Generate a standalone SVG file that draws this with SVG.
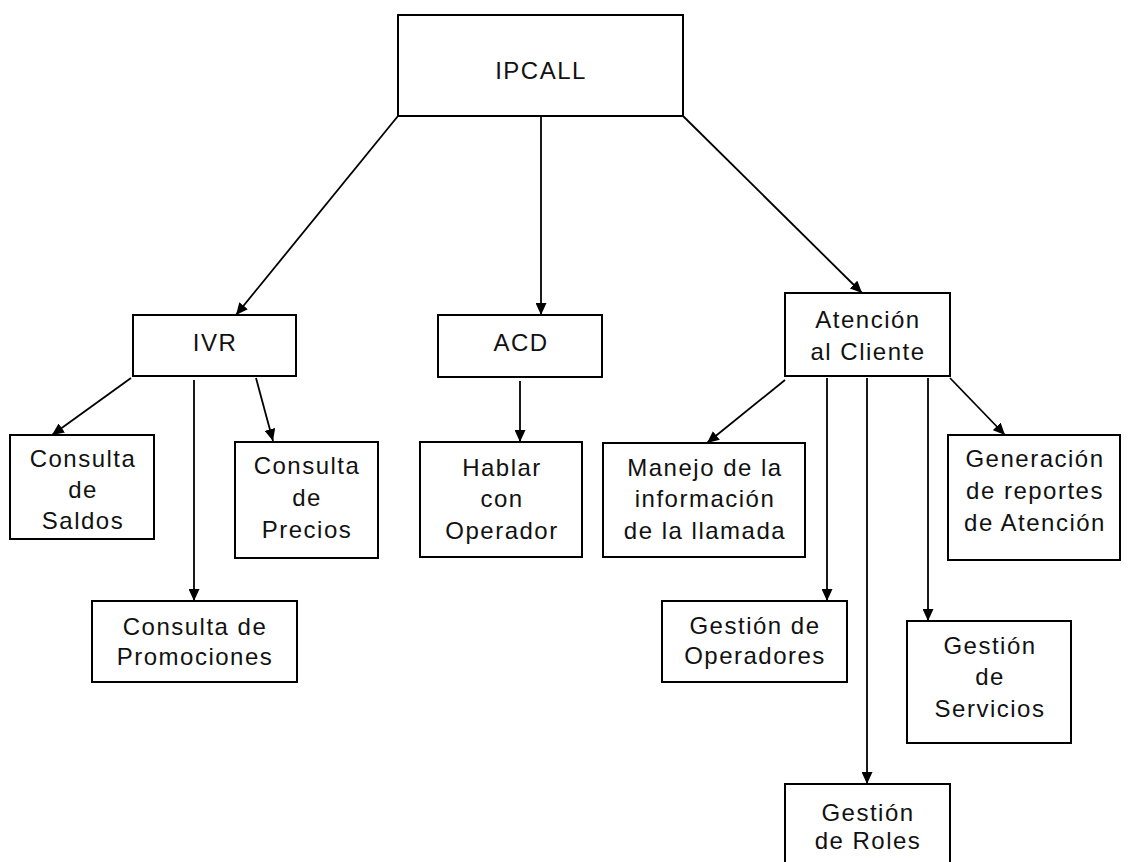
<svg xmlns="http://www.w3.org/2000/svg" width="1129" height="862" viewBox="0 0 1129 862">
<style>
.box{fill:#fff;stroke:#000;stroke-width:2}
.t{font-family:"Liberation Sans",Arial,sans-serif;font-size:24px;letter-spacing:1.5px;fill:#111;text-anchor:middle}
.c{stroke:#000;stroke-width:1.8;fill:none;marker-end:url(#ah)}
</style>
<defs>
<marker id="ah" markerUnits="userSpaceOnUse" markerWidth="13" markerHeight="11" refX="12" refY="5.5" orient="auto">
<path d="M0,0 L12,5.5 L0,11 z" fill="#000"/>
</marker>
</defs>
<rect width="1129" height="862" fill="#fff"/>
<g id="connectors">
<line class="c" x1="398" y1="116" x2="236" y2="315"/>
<line class="c" x1="541" y1="116" x2="541" y2="315"/>
<line class="c" x1="683" y1="116" x2="862" y2="293"/>
<line class="c" x1="131" y1="378" x2="52" y2="435"/>
<line class="c" x1="194" y1="380" x2="194" y2="601"/>
<line class="c" x1="256" y1="378" x2="273" y2="441"/>
<line class="c" x1="520" y1="381" x2="520" y2="442"/>
<line class="c" x1="785" y1="380" x2="707" y2="443"/>
<line class="c" x1="827" y1="378" x2="827" y2="601"/>
<line class="c" x1="867" y1="378" x2="867" y2="784"/>
<line class="c" x1="928" y1="378" x2="928" y2="621"/>
<line class="c" x1="950" y1="378" x2="1005" y2="435"/>
</g>
<g id="ipcall"><rect class="box" x="398" y="15" width="285" height="101"/><text class="t" x="541" y="79">IPCALL</text></g>
<g id="ivr"><rect class="box" x="133" y="315" width="163" height="61"/><text class="t" x="215" y="351">IVR</text></g>
<g id="acd"><rect class="box" x="438" y="315" width="164" height="62"/><text class="t" x="521" y="351">ACD</text></g>
<g id="atencion"><rect class="box" x="785" y="293" width="165" height="83"/><text class="t" x="868" y="328">Atención</text><text class="t" x="868" y="360">al Cliente</text></g>
<g id="saldos"><rect class="box" x="10" y="435" width="144" height="104"/><text class="t" x="83" y="467">Consulta</text><text class="t" x="83" y="498">de</text><text class="t" x="83" y="529">Saldos</text></g>
<g id="precios"><rect class="box" x="235" y="442" width="143" height="116"/><text class="t" x="307" y="474">Consulta</text><text class="t" x="307" y="506">de</text><text class="t" x="307" y="538">Precios</text></g>
<g id="hablar"><rect class="box" x="420" y="442" width="162" height="115"/><text class="t" x="502" y="476">Hablar</text><text class="t" x="502" y="507">con</text><text class="t" x="502" y="539">Operador</text></g>
<g id="manejo"><rect class="box" x="603" y="443" width="202" height="114"/><text class="t" x="705" y="476">Manejo de la</text><text class="t" x="705" y="507">información</text><text class="t" x="705" y="539">de la llamada</text></g>
<g id="generacion"><rect class="box" x="948" y="435" width="172" height="125"/><text class="t" x="1035" y="467">Generación</text><text class="t" x="1035" y="499">de reportes</text><text class="t" x="1035" y="531">de Atención</text></g>
<g id="promociones"><rect class="box" x="92" y="601" width="205" height="81"/><text class="t" x="195" y="635">Consulta de</text><text class="t" x="195" y="665">Promociones</text></g>
<g id="operadores"><rect class="box" x="662" y="601" width="185" height="81"/><text class="t" x="755" y="634">Gestión de</text><text class="t" x="755" y="664">Operadores</text></g>
<g id="servicios"><rect class="box" x="907" y="621" width="164" height="122"/><text class="t" x="990" y="654">Gestión</text><text class="t" x="990" y="685">de</text><text class="t" x="990" y="717">Servicios</text></g>
<g id="roles"><rect class="box" x="785" y="784" width="165" height="90"/><text class="t" x="868" y="821">Gestión</text><text class="t" x="868" y="849">de Roles</text></g>
</svg>
